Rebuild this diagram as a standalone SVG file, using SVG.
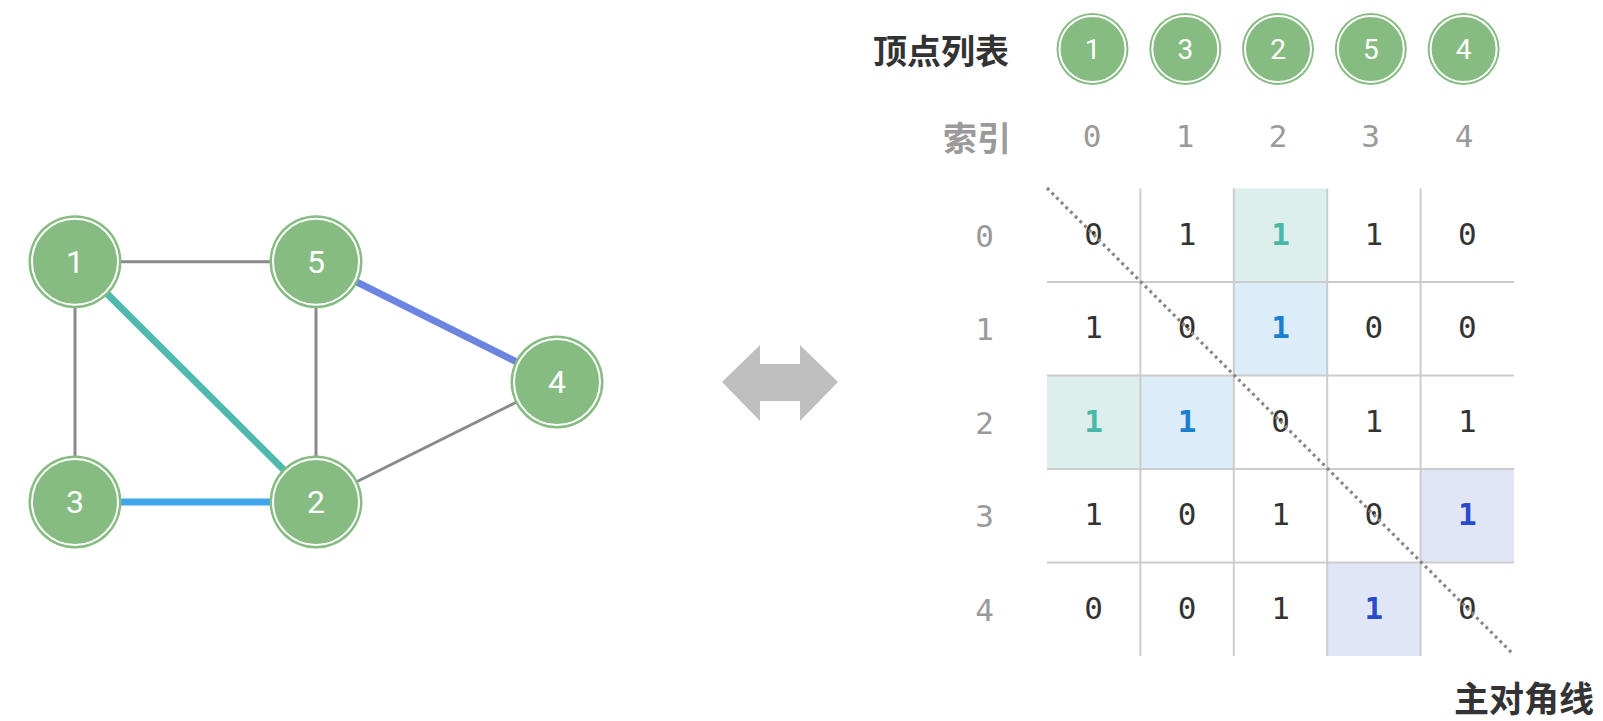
<svg xmlns="http://www.w3.org/2000/svg" width="1603" height="721" viewBox="0 0 1603 721">
<style>
.node-outer{fill:#86bc82;}
.node-ring{fill:none;stroke:#ffffff;stroke-width:2;}
.ntxt{font-family:Roboto,"Noto Sans",sans-serif;font-size:32px;fill:#ffffff;text-anchor:middle;dominant-baseline:central;}
.ltxt{font-family:Roboto,"Noto Sans",sans-serif;font-size:28px;fill:#ffffff;text-anchor:middle;dominant-baseline:central;}
.edge{stroke:#8a8a8a;stroke-width:3;fill:none;}
.cjk{font-family:"Noto Sans CJK SC",sans-serif;font-weight:700;font-size:34px;dominant-baseline:central;}
.mono{font-family:"DejaVu Sans Mono","Liberation Mono",monospace;font-size:31px;text-anchor:middle;dominant-baseline:central;fill:#333333;}
.idx{fill:#9a9a9a;}
.b{font-weight:700;}
.teal{fill:#48b8a6;}
.blue{fill:#1b7fd0;}
.indigo{fill:#2a4bcc;}
.grid{stroke:#cccccc;stroke-width:2;}
</style>
<rect width="1603" height="721" fill="#ffffff"/>
<g id="connectors">
<line class="edge" x1="75" y1="261.7" x2="316" y2="261.7"/>
<line class="edge" x1="75" y1="261.7" x2="75" y2="502"/>
<line class="edge" x1="316" y1="261.7" x2="316" y2="502"/>
<line class="edge" x1="316" y1="502" x2="557" y2="382"/>
<line x1="75" y1="261.7" x2="316" y2="502" stroke="#4fb9ad" stroke-width="7"/>
<line x1="75" y1="502" x2="316" y2="502" stroke="#3fa6ec" stroke-width="7"/>
<line x1="316" y1="261.7" x2="557" y2="382" stroke="#6b84e0" stroke-width="7"/>
</g>
<g id="node1"><circle class="node-outer" cx="75" cy="261.7" r="46.5"/><circle class="node-ring" cx="75" cy="261.7" r="43"/><text class="ntxt" x="75" y="261.7">1</text></g>
<g id="node5"><circle class="node-outer" cx="316" cy="261.7" r="46.5"/><circle class="node-ring" cx="316" cy="261.7" r="43"/><text class="ntxt" x="316" y="261.7">5</text></g>
<g id="node4"><circle class="node-outer" cx="557" cy="382" r="46.5"/><circle class="node-ring" cx="557" cy="382" r="43"/><text class="ntxt" x="557" y="382">4</text></g>
<g id="node3"><circle class="node-outer" cx="75" cy="502" r="46.5"/><circle class="node-ring" cx="75" cy="502" r="43"/><text class="ntxt" x="75" y="502">3</text></g>
<g id="node2"><circle class="node-outer" cx="316" cy="502" r="46.5"/><circle class="node-ring" cx="316" cy="502" r="43"/><text class="ntxt" x="316" y="502">2</text></g>
<g id="double-arrow">
<polygon points="722,382 760,345 760,364 800,364 800,345 838,382 800,421 800,401 760,401 760,421" fill="#bfbfbf"/>
</g>
<g id="vertex-list">
<text class="cjk" x="873" y="49" fill="#333333">顶点列表</text>
<g id="v0"><circle class="node-outer" cx="1092.5" cy="49" r="36"/><circle class="node-ring" cx="1092.5" cy="49" r="33"/><text class="ltxt" x="1092.5" y="49">1</text></g>
<g id="v1"><circle class="node-outer" cx="1185.3" cy="49" r="36"/><circle class="node-ring" cx="1185.3" cy="49" r="33"/><text class="ltxt" x="1185.3" y="49">3</text></g>
<g id="v2"><circle class="node-outer" cx="1278" cy="49" r="36"/><circle class="node-ring" cx="1278" cy="49" r="33"/><text class="ltxt" x="1278" y="49">2</text></g>
<g id="v3"><circle class="node-outer" cx="1370.8" cy="49" r="36"/><circle class="node-ring" cx="1370.8" cy="49" r="33"/><text class="ltxt" x="1370.8" y="49">5</text></g>
<g id="v4"><circle class="node-outer" cx="1463.6" cy="49" r="36"/><circle class="node-ring" cx="1463.6" cy="49" r="33"/><text class="ltxt" x="1463.6" y="49">4</text></g>
</g>
<g id="index-labels">
<text class="cjk" x="943" y="136" fill="#9a9a9a">索引</text>
<text class="mono idx" x="1092" y="136">0</text>
<text class="mono idx" x="1185" y="136">1</text>
<text class="mono idx" x="1278" y="136">2</text>
<text class="mono idx" x="1370.5" y="136">3</text>
<text class="mono idx" x="1464" y="136">4</text>
<text class="mono idx" x="984.5" y="235.5">0</text>
<text class="mono idx" x="984.5" y="329">1</text>
<text class="mono idx" x="984.5" y="422.5">2</text>
<text class="mono idx" x="984.5" y="516">3</text>
<text class="mono idx" x="984.5" y="609.5">4</text>
</g>
<g id="matrix">
<rect x="1233.8" y="188.5" width="93.4" height="93.5" fill="#dcefec"/>
<rect x="1233.8" y="282" width="93.4" height="93.5" fill="#dcecf9"/>
<rect x="1047" y="375.5" width="93.4" height="93.5" fill="#dcefec"/>
<rect x="1140.4" y="375.5" width="93.4" height="93.5" fill="#dcecf9"/>
<rect x="1420.6" y="469" width="93.4" height="93.5" fill="#e1e6f7"/>
<rect x="1327.2" y="562.5" width="93.4" height="93.5" fill="#e1e6f7"/>
<g class="grid">
<line x1="1047" y1="282" x2="1514" y2="282"/>
<line x1="1047" y1="375.5" x2="1514" y2="375.5"/>
<line x1="1047" y1="469" x2="1514" y2="469"/>
<line x1="1047" y1="562.5" x2="1514" y2="562.5"/>
<line x1="1140.4" y1="188.5" x2="1140.4" y2="656"/>
<line x1="1233.8" y1="188.5" x2="1233.8" y2="656"/>
<line x1="1327.2" y1="188.5" x2="1327.2" y2="656"/>
<line x1="1420.6" y1="188.5" x2="1420.6" y2="656"/>
</g>
<g id="cells">
<text class="mono" x="1093.7" y="233.5">0</text><text class="mono" x="1187.1" y="233.5">1</text><text class="mono b teal" x="1280.5" y="233.5">1</text><text class="mono" x="1373.9" y="233.5">1</text><text class="mono" x="1467.3" y="233.5">0</text>
<text class="mono" x="1093.7" y="327">1</text><text class="mono" x="1187.1" y="327">0</text><text class="mono b blue" x="1280.5" y="327">1</text><text class="mono" x="1373.9" y="327">0</text><text class="mono" x="1467.3" y="327">0</text>
<text class="mono b teal" x="1093.7" y="420.5">1</text><text class="mono b blue" x="1187.1" y="420.5">1</text><text class="mono" x="1280.5" y="420.5">0</text><text class="mono" x="1373.9" y="420.5">1</text><text class="mono" x="1467.3" y="420.5">1</text>
<text class="mono" x="1093.7" y="514">1</text><text class="mono" x="1187.1" y="514">0</text><text class="mono" x="1280.5" y="514">1</text><text class="mono" x="1373.9" y="514">0</text><text class="mono b indigo" x="1467.3" y="514">1</text>
<text class="mono" x="1093.7" y="607.5">0</text><text class="mono" x="1187.1" y="607.5">0</text><text class="mono" x="1280.5" y="607.5">1</text><text class="mono b indigo" x="1373.9" y="607.5">1</text><text class="mono" x="1467.3" y="607.5">0</text>
</g>
<line id="diagonal" x1="1047" y1="188" x2="1513" y2="654" stroke="#888888" stroke-width="3.2" stroke-dasharray="3 3.6"/>
<text class="cjk" x="1594" y="696" fill="#333333" text-anchor="end" style="font-size:35px">主对角线</text>
</g>
</svg>
